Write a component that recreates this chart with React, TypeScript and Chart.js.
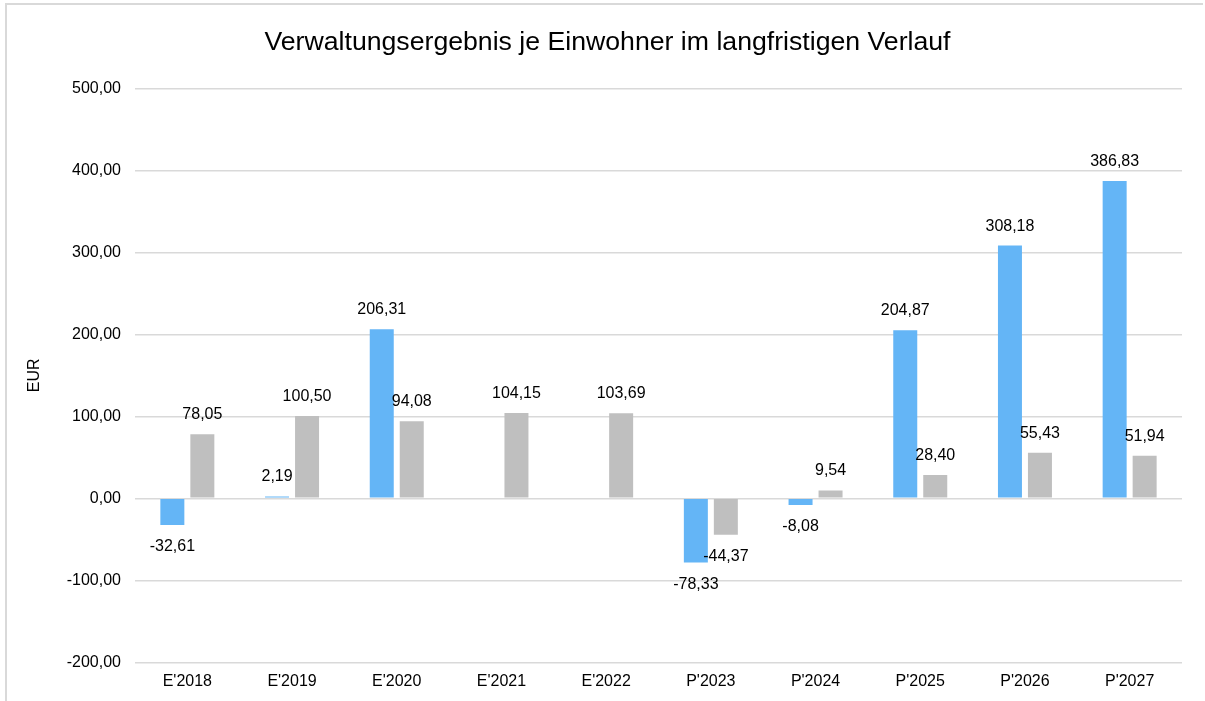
import React, { useEffect, useRef } from "react";
import { Chart, registerables } from "chart.js";

Chart.register(...registerables);

const categories = ["E'2018", "E'2019", "E'2020", "E'2021", "E'2022", "P'2023", "P'2024", "P'2025", "P'2026", "P'2027"];
const blueValues: (number | null)[] = [-32.61, 2.19, 206.31, null, null, -78.33, -8.08, 204.87, 308.18, 386.83];
const grayValues: (number | null)[] = [78.05, 100.5, 94.08, 104.15, 103.69, -44.37, 9.54, 28.4, 55.43, 51.94];
const yMin = -200;
const yMax = 500;
const yStep = 100;

const FONT = '"Liberation Sans", Arial, sans-serif';
const fmt = (v: number) => v.toFixed(2).replace(".", ",");

const dataLabelPlugin = {
  id: "dataLabels",
  afterDatasetsDraw(chart: any) {
    const ctx = chart.ctx;
    ctx.save();
    ctx.font = `16px ${FONT}`;
    ctx.fillStyle = "#000";
    ctx.textAlign = "center";
    ctx.textBaseline = "middle";
    chart.data.datasets.forEach((ds: any, di: number) => {
      const meta = chart.getDatasetMeta(di);
      meta.data.forEach((el: any, i: number) => {
        const v = ds.data[i];
        if (v == null) return;
        const y = v >= 0 ? el.y - 19.5 : el.y + 22;
        ctx.fillText(fmt(v), el.x, y);
      });
    });
    ctx.restore();
  },
};

export default function App() {
  const canvasRef = useRef<HTMLCanvasElement | null>(null);

  useEffect(() => {
    if (!canvasRef.current) return;
    const chart = new Chart(canvasRef.current, {
      type: "bar",
      data: {
        labels: categories,
        datasets: [
          {
            label: "Verwaltungsergebnis je Einwohner",
            data: blueValues,
            backgroundColor: "#64B5F6",
            categoryPercentage: 0.573,
            barPercentage: 0.8,
          },
          {
            label: "Vergleich",
            data: grayValues,
            backgroundColor: "#BFBFBF",
            categoryPercentage: 0.573,
            barPercentage: 0.8,
          },
        ],
      },
      options: {
        animation: false,
        responsive: false,
        devicePixelRatio: 1,
        layout: { padding: { left: 33, right: 23, top: 0, bottom: 7.5 } },
        plugins: {
          legend: { display: false },
          tooltip: { enabled: false },
          title: {
            display: true,
            text: "Verwaltungsergebnis je Einwohner im langfristigen Verlauf",
            color: "#000",
            font: { family: FONT, size: 26.67, weight: "normal" },
            padding: { top: 26.5, bottom: 29.8 },
          },
        },
        scales: {
          x: {
            grid: { display: false },
            border: { display: false },
            ticks: { color: "#000", font: { family: FONT, size: 16 }, padding: 2, maxRotation: 0 },
          },
          y: {
            min: yMin,
            max: yMax,
            grid: { color: "#D9D9D9", lineWidth: 1.5, drawTicks: false },
            border: { display: false },
            ticks: {
              stepSize: yStep,
              color: "#000",
              font: { family: FONT, size: 16 },
              padding: 14,
              callback: (v: any) => fmt(Number(v)),
            },
            title: {
              display: true,
              text: "EUR",
              color: "#000",
              font: { family: FONT, size: 16 },
              padding: { top: -7.6, bottom: 0 },
            },
            afterFit: (scale: any) => {
              scale.width = 102;
            },
          },
        },
      },
      plugins: [dataLabelPlugin],
    });
    return () => chart.destroy();
  }, []);

  return (
    <div style={{ position: "fixed", left: 0, top: 0, width: 1205, height: 701, overflow: "hidden", background: "#fff" }}>
      <div
        style={{
          position: "absolute",
          left: 5,
          top: 3,
          width: 1196,
          height: 800,
          borderLeft: "2px solid #D9D9D9",
          borderTop: "2px solid #D9D9D9",
        }}
      />
      <canvas ref={canvasRef} width={1205} height={701} style={{ position: "absolute", left: 0, top: 0, width: 1205, height: 701 }} />
    </div>
  );
}
